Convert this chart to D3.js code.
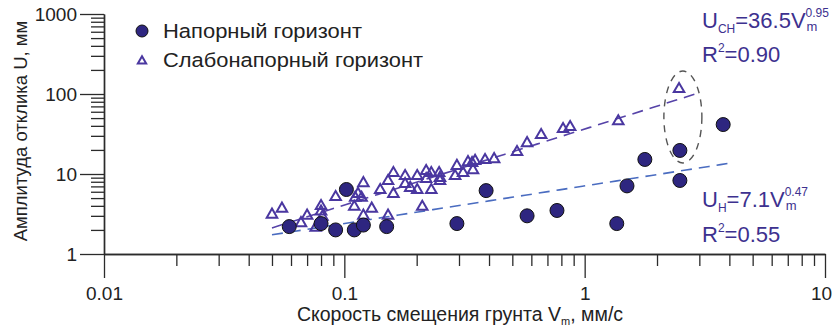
<!DOCTYPE html>
<html><head><meta charset="utf-8">
<script src="https://cdn.jsdelivr.net/npm/d3@7"></script>
<style>
body{margin:0;background:#fff;}
svg{display:block;font-family:"Liberation Sans",Arial,sans-serif;}
</style></head>
<body><svg id="c" width="834" height="331"></svg>
<script>
// ---- data ----
const xMajorTicks = [0.01, 0.1, 1, 10];
const yMajorTicks = [1, 10, 100, 1000];
const xTickLabels = ["0.01", "0.1", "1", "10"];
const yTickLabels = ["1", "10", "100", "1000"];
const seriesNames = ["Напорный горизонт", "Слабонапорный горизонт"];

// Напорный горизонт (confined) : [V_m, U]
const confinedV = [0.059, 0.080, 0.092, 0.102, 0.110, 0.120, 0.150, 0.294, 0.389, 0.576, 0.767, 1.36, 1.50, 1.78, 2.49, 2.49, 3.77];
const confinedU = [2.2, 2.4, 2.0, 6.4, 2.0, 2.3, 2.2, 2.4, 6.2, 3.0, 3.5, 2.4, 7.1, 15.2, 19.7, 8.3, 41.5];

// Слабонапорный горизонт (semi-confined)
const semiV = [0.050, 0.055, 0.066, 0.070, 0.076, 0.080, 0.080, 0.081, 0.092, 0.110, 0.111, 0.114, 0.118, 0.120, 0.120, 0.130, 0.141, 0.152, 0.152, 0.160, 0.160, 0.179, 0.179, 0.188, 0.201, 0.201, 0.211, 0.219, 0.219, 0.230, 0.230, 0.248, 0.250, 0.250, 0.289, 0.294, 0.312, 0.327, 0.340, 0.343, 0.350, 0.385, 0.420, 0.523, 0.576, 0.659, 0.813, 0.870, 1.38, 2.47];
const semiU = [3.2, 3.8, 2.5, 3.1, 2.2, 4.1, 3.5, 3.0, 5.3, 4.0, 5.2, 5.8, 5.2, 7.9, 3.1, 3.8, 6.5, 3.1, 8.4, 10.6, 5.8, 9.7, 7.7, 6.9, 9.7, 6.5, 4.0, 11.2, 8.9, 6.5, 10.6, 10.6, 9.2, 8.4, 9.7, 13.0, 10.6, 14.5, 14.1, 11.5, 15.0, 15.4, 15.8, 19.4, 25.0, 31.6, 37.6, 39.8, 47.0, 119];

// regression fits U = a * V^b
const fitSemi = {a: 36.5, b: 0.95, from: 0.05, to: 2.9};
const fitConf = {a: 7.1, b: 0.47, from: 0.05, to: 4.1};
// highlighted pair
const highlightV = [2.49];

// ---- drawing ----
const svg = d3.select("#c");
const x = d3.scaleLog().domain([0.01, 10]).range([104, 825]);
const y = d3.scaleLog().domain([1, 1000]).range([254, 14]);

const axisColor = "#2b2b2b";
const markFill = "#2e2680";
const triColor = "#4a37a0";
const txtColor = "#3d318f";

function minorTicks(lo, hi) {
  const out = [];
  for (let d = lo; d < hi; d *= 10) for (let k = 2; k <= 9; k++) out.push(d * k);
  return out;
}

// x axis
const gx = svg.append("g").attr("transform", "translate(0,254)");
gx.call(d3.axisBottom(x).tickValues(minorTicks(0.01, 10)).tickSize(12).tickSizeOuter(0).tickFormat(""));
const gx2 = svg.append("g").attr("transform", "translate(0,254)");
gx2.call(d3.axisBottom(x).tickValues(xMajorTicks).tickSize(24).tickSizeOuter(0).tickPadding(9)
  .tickFormat((d, i) => xTickLabels[i]));
gx2.selectAll(".tick text").filter(d => d === 10).attr("dx", -4);
// y axis
const gy = svg.append("g").attr("transform", "translate(104,0)");
gy.call(d3.axisLeft(y).tickValues(minorTicks(1, 1000)).tickSize(13).tickSizeOuter(0).tickFormat(""));
const gy2 = svg.append("g").attr("transform", "translate(104,0)");
gy2.call(d3.axisLeft(y).tickValues(yMajorTicks).tickSize(24).tickSizeOuter(0).tickPadding(3)
  .tickFormat((d, i) => yTickLabels[i]));

svg.selectAll(".domain").attr("stroke", axisColor).attr("stroke-width", 1.4);
svg.selectAll(".tick line").attr("stroke", axisColor).attr("stroke-width", 1.3);
svg.selectAll(".tick text").attr("fill", "#222").style("font-size", "19px").style("font-family", "Liberation Sans, Arial, sans-serif");

// axis titles
const xt = svg.append("text").attr("x", 460).attr("y", 321).attr("text-anchor", "middle")
  .attr("fill", "#222").style("font-size", "19.5px");
xt.append("tspan").text("Скорость смещения грунта V");
xt.append("tspan").text("m").style("font-size", "11px").attr("dy", 4);
xt.append("tspan").text(", мм/с").attr("dy", -4);

svg.append("text").attr("transform", "translate(27,131) rotate(-90)").attr("text-anchor", "middle")
  .attr("fill", "#222").style("font-size", "18.5px").text("Амплитуда отклика U, мм");

// fit lines
function fitPts(f) {
  const n = 40, pts = [];
  const l0 = Math.log10(f.from), l1 = Math.log10(f.to);
  for (let i = 0; i <= n; i++) { const v = Math.pow(10, l0 + (l1 - l0) * i / n); pts.push([v, f.a * Math.pow(v, f.b)]); }
  return pts;
}
const line = d3.line().x(d => x(d[0])).y(d => y(d[1]));
svg.append("path").attr("d", line(fitPts(fitConf))).attr("fill", "none")
  .attr("stroke", "#4a6cc0").attr("stroke-width", 1.6).attr("stroke-dasharray", "11,7");
svg.append("path").attr("d", line(fitPts(fitSemi))).attr("fill", "none")
  .attr("stroke", "#5643a8").attr("stroke-width", 1.6).attr("stroke-dasharray", "11,7");

// triangles
const tri = d3.symbol().type(d3.symbolTriangle).size(48);
svg.append("g").selectAll("path").data(semiV.map((v, i) => [v, semiU[i]])).join("path")
  .attr("d", tri).attr("transform", d => `translate(${x(d[0])},${y(d[1]) + 1})`)
  .attr("fill", "none").attr("stroke", triColor).attr("stroke-width", 2);

// circles
svg.append("g").selectAll("circle").data(confinedV.map((v, i) => [v, confinedU[i]])).join("circle")
  .attr("cx", d => x(d[0])).attr("cy", d => y(d[1])).attr("r", 7)
  .attr("fill", markFill).attr("stroke", "#111").attr("stroke-width", 1);

// highlight ellipse
svg.append("ellipse").attr("cx", x(highlightV[0]) + 3).attr("cy", 117).attr("rx", 19).attr("ry", 46)
  .attr("fill", "none").attr("stroke", "#555").attr("stroke-width", 1.4).attr("stroke-dasharray", "7,6");

// legend
svg.append("circle").attr("cx", 142).attr("cy", 31).attr("r", 6).attr("fill", markFill).attr("stroke", "#111").attr("stroke-width", 1);
svg.append("path").attr("d", d3.symbol().type(d3.symbolTriangle).size(30)).attr("transform", "translate(142,61)")
  .attr("fill", "none").attr("stroke", triColor).attr("stroke-width", 2);
svg.append("text").attr("x", 163).attr("y", 38).attr("fill", "#222").style("font-size", "20.5px")
  .attr("textLength", 199).attr("lengthAdjust", "spacingAndGlyphs").text(seriesNames[0]);
svg.append("text").attr("x", 163).attr("y", 67).attr("fill", "#222").style("font-size", "20.5px")
  .attr("textLength", 260).attr("lengthAdjust", "spacingAndGlyphs").text(seriesNames[1]);

// equations
function eq(x0, yb, sub, coef, pw) {
  const t = svg.append("text").attr("x", x0).attr("y", yb).attr("fill", txtColor).style("font-size", "22px");
  t.append("tspan").text("U");
  t.append("tspan").text(sub).style("font-size", "12px").attr("dy", 5);
  t.append("tspan").text("=" + coef + "V").attr("dy", -5);
  const w = t.node().getComputedTextLength();
  t.append("tspan").text(pw).style("font-size", "12px").attr("dy", -11);
  t.append("tspan").text("m").style("font-size", "13px").attr("x", x0 + w + 1).attr("dy", 14);
}
function r2(x0, yb, val) {
  const t = svg.append("text").attr("x", x0).attr("y", yb).attr("fill", txtColor).style("font-size", "22px");
  t.append("tspan").text("R");
  t.append("tspan").text("2").style("font-size", "12px").attr("dy", -10);
  t.append("tspan").text("=" + val).attr("dy", 10);
}
eq(702, 28, "CH", "36.5", "0.95");
r2(702, 62, "0.90");
eq(702, 207, "H", "7.1", "0.47");
r2(702, 242, "0.55");
</script></body></html>
